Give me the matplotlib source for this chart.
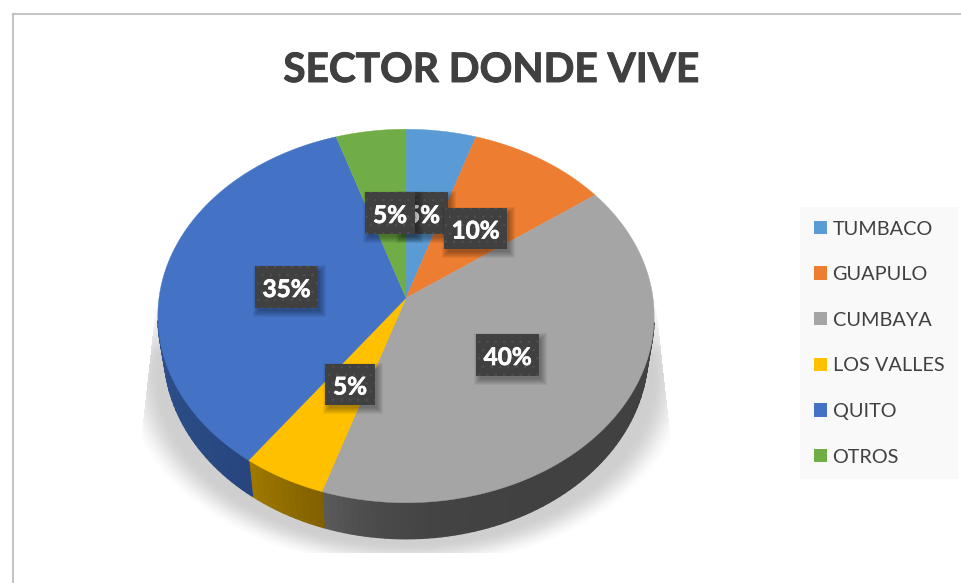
import numpy as np
import matplotlib
matplotlib.use("Agg")
import matplotlib.pyplot as plt
from matplotlib.patches import Rectangle, Patch
from matplotlib.colors import to_rgb
import matplotlib.patheffects as pe

plt.rcParams['font.family'] = ['Lato', 'DejaVu Sans']
plt.rcParams['hatch.linewidth'] = 0.6

categories = ["TUMBACO", "GUAPULO", "CUMBAYA", "LOS VALLES", "QUITO", "OTROS"]
values = [5, 10, 40, 5, 35, 5]
colors = ["#5B9BD5", "#ED7D31", "#A5A5A5", "#FFC000", "#4472C4", "#70AD47"]
side_left = ["#3b6a94", "#a4551f", "#5c5c5c", "#a07900", "#3a609f", "#4d7831"]
side_right = ["#3b6a94", "#a4551f", "#414141", "#7f6000", "#27467f", "#4d7831"]
side_power = [1, 1, 12, 1, 1, 1]
title = "SECTOR DONDE VIVE"
label_boxes = [(398, 192, 50, 42), (444, 208, 63, 41), (476, 334, 63, 42),
               (325, 364, 50, 41), (255, 266, 63, 42), (365, 192, 50, 42)]

fig = plt.figure(figsize=(9.61, 5.83), dpi=100, facecolor="white")
ax = fig.add_axes([0, 0, 1, 1])
W, H = 961, 583

# perspective projection of the pie disc
CX, CY, A, B, K = 406.0, 298.0, 247.0, 185.0, 0.0963
DEPTH, XS = 36.0, 0.975

def top(t):
    d = 1 + K * np.cos(t)
    return CX + A * np.sin(t) / d, CY - B * np.cos(t) / d

def bot(t):
    x, y = top(t)
    return CX + (x - CX) * XS, y + DEPTH

# soft shadow under the pie
yy, xx = np.mgrid[0:H, 0:W] + 0.5
r = np.sqrt(((xx - 406) / 285.0) ** 2 + ((yy - 375) / 195.0) ** 2)
edge = np.clip((1.0 - r) / 0.14, 0, 1)
edge = edge * edge * (3 - 2 * edge)
fade = np.clip((yy - 295) / 60.0, 0, 1)
alpha = 0.25 * edge * fade
xmin = 151 - (yy - 350) * 0.11
xmax = 661 + (yy - 350) * 0.11
alpha[(yy > 553) | (xx < xmin) | (xx > xmax)] = 0
rgba = np.zeros((H, W, 4))
rgba[..., :3] = 0.25
rgba[..., 3] = alpha
ax.imshow(rgba, extent=(0, W, H, 0), aspect="auto", zorder=1, interpolation="bilinear")

# slice angles from the values
frac = np.cumsum([0] + values) / float(sum(values)) * 2 * np.pi

# side walls (only the part that faces the viewer)
for i in range(len(values)):
    t0, t1 = frac[i], frac[i + 1]
    steps = max(2, int((t1 - t0) / np.radians(1.5)))
    edges = np.linspace(t0, t1, steps + 1)
    c_start, c_end = np.array(to_rgb(side_right[i])), np.array(to_rgb(side_left[i]))
    for j in range(steps):
        tt = np.array([edges[j], edges[j + 1]])
        if np.cos(tt.mean()) > -0.12:
            continue
        x1, y1 = top(tt)
        x2, y2 = bot(tt)
        c = c_start + (c_end - c_start) * ((j + 0.5) / steps) ** side_power[i]
        ax.fill(np.r_[x1, x2[::-1]], np.r_[y1, y2[::-1]], fc=c, ec=c, lw=1.0, zorder=2)

# top face
for i in range(len(values)):
    t = np.linspace(frac[i], frac[i + 1], 120)
    x, y = top(t)
    ax.fill(np.r_[CX, x], np.r_[CY, y], color=colors[i], lw=0.3, zorder=3)

# data labels
for i, (bx, by, bw, bh) in enumerate(label_boxes):
    z = 5 + i
    for k in range(7):
        ax.add_patch(Rectangle((bx - 2 + k, by - 1 + k), bw + 8 - 2 * k + 2, bh + 8 - 2 * k + 2,
                               fc="black", ec="none", alpha=0.05, zorder=z))
    ax.add_patch(Rectangle((bx, by), bw, bh, fc="#404040", ec="#4f4f4f", hatch="..", lw=0, zorder=z))
    ax.text(bx + bw / 2, by + bh / 2 + 2.5, f"{values[i]}%", color="white", fontsize=17.5,
            fontweight="bold", ha="center", va="center", zorder=z,
            path_effects=[pe.withStroke(linewidth=0.5, foreground="white")])

# chart frame
ax.plot([12.5, 12.5, W], [H, 14, 14], color="#c4c4c4", lw=1.5, zorder=4, solid_joinstyle="miter")

ax.text(491, 82, title, color="#404040", fontsize=29.2, fontweight="bold", ha="center", va="baseline", zorder=4,
        path_effects=[pe.withStroke(linewidth=0.7, foreground="#404040")])

# legend
handles = [Patch(fc=c, ec="none") for c in colors]
leg = ax.legend(handles, categories, loc="upper left", bbox_to_anchor=(800, 207),
                bbox_transform=ax.transData, fontsize=14.3, labelcolor="#404040",
                frameon=True, facecolor="#f9f9f9", edgecolor="none", fancybox=False, framealpha=1,
                borderaxespad=0, borderpad=0.68, labelspacing=1.44, handlelength=0.66,
                handleheight=0.66, handletextpad=0.3)
leg.set_zorder(4)

ax.set_xlim(0, W)
ax.set_ylim(H, 0)
ax.axis("off")
fig.savefig("out.png", dpi=100, facecolor="white")
